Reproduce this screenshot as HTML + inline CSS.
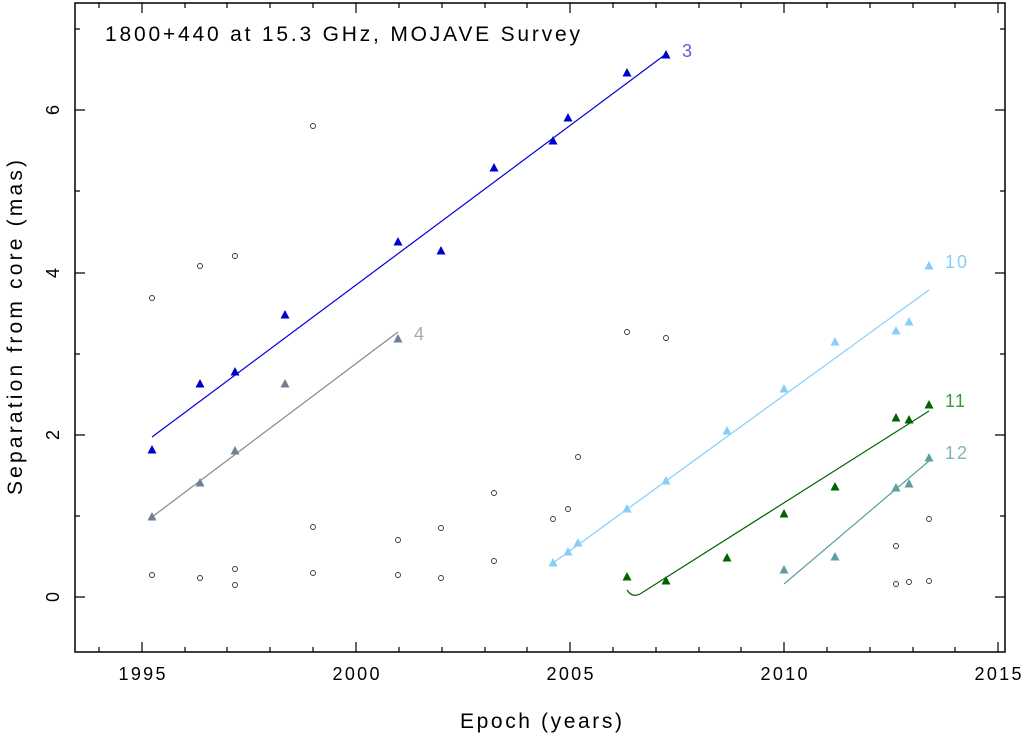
<!DOCTYPE html>
<html><head><style>body{margin:0;background:#fff}svg text{font-family:"Liberation Sans",sans-serif}</style></head><body>
<svg width="1027" height="737" xmlns="http://www.w3.org/2000/svg">
<rect x="75" y="3" width="930" height="649" fill="none" stroke="#000" stroke-width="1.5"/>
<g stroke="#000" stroke-width="1.2">
<path d="M142 652v-10M356 652v-10M570 652v-10M784 652v-10M998 652v-10M142 3v10M356 3v10M570 3v10M784 3v10M998 3v10"/>
<path d="M99 652v-5M185 652v-5M227 652v-5M270 652v-5M313 652v-5M399 652v-5M442 652v-5M485 652v-5M527 652v-5M613 652v-5M656 652v-5M699 652v-5M741 652v-5M827 652v-5M870 652v-5M913 652v-5M955 652v-5"/>
<path d="M99 3v5M185 3v5M227 3v5M270 3v5M313 3v5M399 3v5M442 3v5M485 3v5M527 3v5M613 3v5M656 3v5M699 3v5M741 3v5M827 3v5M870 3v5M913 3v5M955 3v5"/>
<path d="M75 597h10M75 435h10M75 273h10M75 110h10M1005 597h-10M1005 435h-10M1005 273h-10M1005 110h-10"/>
<path d="M75 516h5M75 354h5M75 191h5M75 29h5M1005 516h-5M1005 354h-5M1005 191h-5M1005 29h-5"/>
</g>
<g font-size="18" text-anchor="middle">
<text x="142" y="680" textLength="47">1995</text><text x="356" y="680" textLength="47">2000</text><text x="570" y="680" textLength="47">2005</text><text x="784" y="680" textLength="47">2010</text><text x="998" y="680" textLength="47">2015</text>
</g>
<g font-size="18" text-anchor="middle">
<text transform="translate(59,597) rotate(-90)">0</text>
<text transform="translate(59,435) rotate(-90)">2</text>
<text transform="translate(59,273) rotate(-90)">4</text>
<text transform="translate(59,110) rotate(-90)">6</text>
</g>
<text x="460" y="728" font-size="21" textLength="162">Epoch (years)</text>
<text transform="translate(22,495) rotate(-90)" font-size="21" textLength="335">Separation from core (mas)</text>
<text x="105" y="41" font-size="21" textLength="475">1800+440 at 15.3 GHz, MOJAVE Survey</text>
<g fill="none" stroke="#333" stroke-width="0.9">
<circle cx="152" cy="298" r="2.5"/><circle cx="200" cy="266" r="2.5"/><circle cx="235" cy="256" r="2.5"/><circle cx="313" cy="126" r="2.5"/><circle cx="152" cy="575" r="2.5"/><circle cx="200" cy="578" r="2.5"/><circle cx="235" cy="569" r="2.5"/><circle cx="235" cy="585" r="2.5"/><circle cx="313" cy="527" r="2.5"/><circle cx="313" cy="573" r="2.5"/><circle cx="398" cy="540" r="2.5"/><circle cx="398" cy="575" r="2.5"/><circle cx="441" cy="528" r="2.5"/><circle cx="441" cy="578" r="2.5"/><circle cx="494" cy="493" r="2.5"/><circle cx="494" cy="561" r="2.5"/><circle cx="553" cy="519" r="2.5"/><circle cx="568" cy="509" r="2.5"/><circle cx="578" cy="457" r="2.5"/><circle cx="627" cy="332" r="2.5"/><circle cx="666" cy="338" r="2.5"/><circle cx="896" cy="546" r="2.5"/><circle cx="896" cy="584" r="2.5"/><circle cx="909" cy="582" r="2.5"/><circle cx="929" cy="519" r="2.5"/><circle cx="929" cy="581" r="2.5"/>
</g>
<defs><path id="t" d="M0 -5L4.5 3.5L-4.5 3.5Z"/></defs>
<line x1="152" y1="437" x2="666" y2="54" stroke="#0000dd" stroke-width="1.2"/>
<g fill="#0000cc"><use href="#t" x="152" y="450"/><use href="#t" x="200" y="384"/><use href="#t" x="235" y="372"/><use href="#t" x="285" y="315"/><use href="#t" x="398" y="242"/><use href="#t" x="441" y="251"/><use href="#t" x="494" y="168"/><use href="#t" x="553" y="141"/><use href="#t" x="568" y="118"/><use href="#t" x="627" y="73"/><use href="#t" x="666" y="55"/></g>
<text x="682" y="57" font-size="18" fill="#6a5acd">3</text>
<line x1="152" y1="517" x2="398" y2="332" stroke="#888" stroke-width="1.2"/>
<g fill="#708090"><use href="#t" x="152" y="517"/><use href="#t" x="200" y="483"/><use href="#t" x="235" y="451"/><use href="#t" x="285" y="384"/><use href="#t" x="398" y="339"/></g>
<text x="414" y="340" font-size="18" fill="#aaa">4</text>
<line x1="553" y1="563" x2="929" y2="290" stroke="#87cefa" stroke-width="1.2"/>
<g fill="#87cefa"><use href="#t" x="553" y="563"/><use href="#t" x="568" y="552"/><use href="#t" x="578" y="543"/><use href="#t" x="627" y="509"/><use href="#t" x="666" y="481"/><use href="#t" x="727" y="431"/><use href="#t" x="784" y="389"/><use href="#t" x="835" y="342"/><use href="#t" x="896" y="331"/><use href="#t" x="909" y="322"/><use href="#t" x="929" y="266"/></g>
<text x="945" y="268" font-size="18" fill="#87cefa" textLength="22">10</text>
<path d="M627 590Q632 598 640 594L929 411" fill="none" stroke="#006400" stroke-width="1.2"/>
<g fill="#006400"><use href="#t" x="627" y="577"/><use href="#t" x="666" y="581"/><use href="#t" x="727" y="558"/><use href="#t" x="784" y="514"/><use href="#t" x="835" y="487"/><use href="#t" x="896" y="418"/><use href="#t" x="909" y="420"/><use href="#t" x="929" y="405"/></g>
<text x="945" y="407" font-size="18" fill="#3a9a3a" textLength="20">11</text>
<line x1="784" y1="584" x2="929" y2="461" stroke="#5f9ea0" stroke-width="1.2"/>
<g fill="#5f9ea0"><use href="#t" x="784" y="570"/><use href="#t" x="835" y="557"/><use href="#t" x="896" y="488"/><use href="#t" x="909" y="484"/><use href="#t" x="929" y="458"/></g>
<text x="945" y="459" font-size="18" fill="#7fb5b5" textLength="22">12</text>
</svg>
</body></html>
